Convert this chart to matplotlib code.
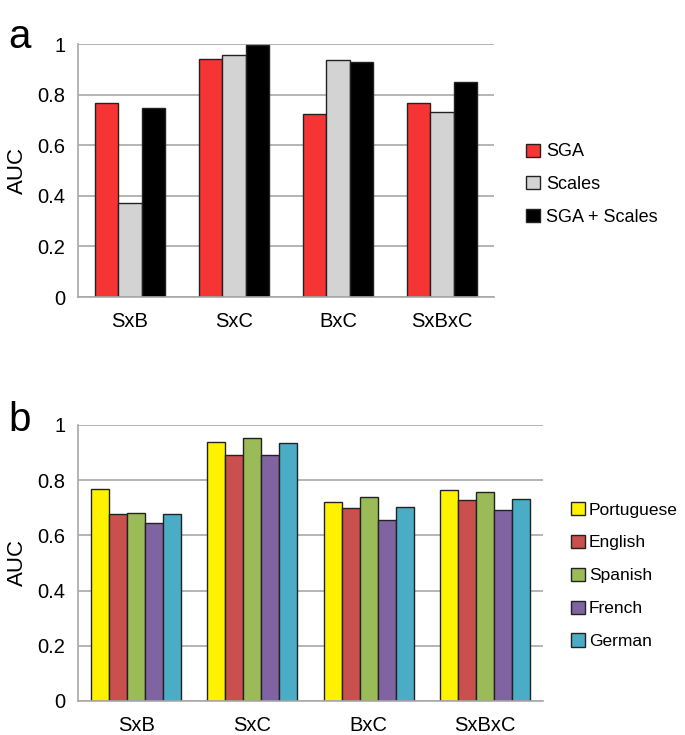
import numpy as np
import matplotlib
matplotlib.use("Agg")
import matplotlib.pyplot as plt

plt.rcParams['font.family'] = ['Liberation Sans', 'DejaVu Sans']

categories = ['SxB', 'SxC', 'BxC', 'SxBxC']

# panel a
sga = [0.768, 0.941, 0.722, 0.768]
scales = [0.373, 0.956, 0.935, 0.731]
sga_scales = [0.749, 0.996, 0.929, 0.850]
a_labels = ['SGA', 'Scales', 'SGA + Scales']
a_colors = ['#F63434', '#D3D3D3', '#000000']

# panel b
portuguese = [0.768, 0.940, 0.721, 0.766]
english = [0.679, 0.893, 0.699, 0.728]
spanish = [0.682, 0.954, 0.739, 0.757]
french = [0.646, 0.893, 0.657, 0.693]
german = [0.679, 0.934, 0.703, 0.732]
b_labels = ['Portuguese', 'English', 'Spanish', 'French', 'German']
b_colors = ['#FFF200', '#C9504D', '#9BBB59', '#8064A2', '#4BACC6']

grid_col = '#A8A8A8'


def style_axes(ax):
    ax.set_ylim(0, 1)
    ax.set_xlim(-0.5, len(categories) - 0.5)
    ax.set_yticks([0, 0.2, 0.4, 0.6, 0.8, 1.0])
    ax.set_yticklabels(['0', '0.2', '0.4', '0.6', '0.8', '1'])
    ax.yaxis.grid(True, color=grid_col, linewidth=1.2)
    ax.set_axisbelow(True)
    ax.set_xticks(range(len(categories)))
    ax.set_xticklabels(categories)
    ax.tick_params(axis='both', length=0, labelsize=14.5)
    ax.tick_params(axis='y', pad=9)
    ax.tick_params(axis='x', pad=11)
    for s in ['top', 'right']:
        ax.spines[s].set_visible(False)
    for s in ['left', 'bottom']:
        ax.spines[s].set_color(grid_col)
        ax.spines[s].set_linewidth(1.2)
    ax.set_ylabel('AUC', fontsize=16, labelpad=7)


def grouped_bars(ax, series, labels, colors, width):
    x = np.arange(len(categories))
    n = len(series)
    for i, (vals, lab, col) in enumerate(zip(series, labels, colors)):
        ax.bar(x + (i - (n - 1) / 2) * width, vals, width, color=col,
               edgecolor='#222222', linewidth=1.0, label=lab)


fig = plt.figure(figsize=(6.85, 7.35), dpi=100)

ax1 = fig.add_axes([0.1139, 0.5959, 0.6073, 0.3442])
grouped_bars(ax1, [sga, scales, sga_scales], a_labels, a_colors, 0.224)
style_axes(ax1)
ax1.legend(loc='center left', bbox_to_anchor=(0.758, 0.749), bbox_transform=fig.transFigure,
           frameon=False, fontsize=13, handlelength=0.75, handleheight=0.75,
           handletextpad=0.35, labelspacing=0.86, borderaxespad=0)

ax2 = fig.add_axes([0.1139, 0.0463, 0.6788, 0.3755])
grouped_bars(ax2, [portuguese, english, spanish, french, german], b_labels, b_colors, 0.155)
style_axes(ax2)
ax2.legend(loc='center left', bbox_to_anchor=(0.824, 0.217), bbox_transform=fig.transFigure,
           frameon=False, fontsize=12.5, handlelength=0.8, handleheight=0.8,
           handletextpad=0.2, labelspacing=0.99, borderaxespad=0)

fig.text(0.012, 0.975, 'a', fontsize=29, va='top')
fig.text(0.012, 0.455, 'b', fontsize=29, va='top')

fig.savefig('out.png', dpi=100)
